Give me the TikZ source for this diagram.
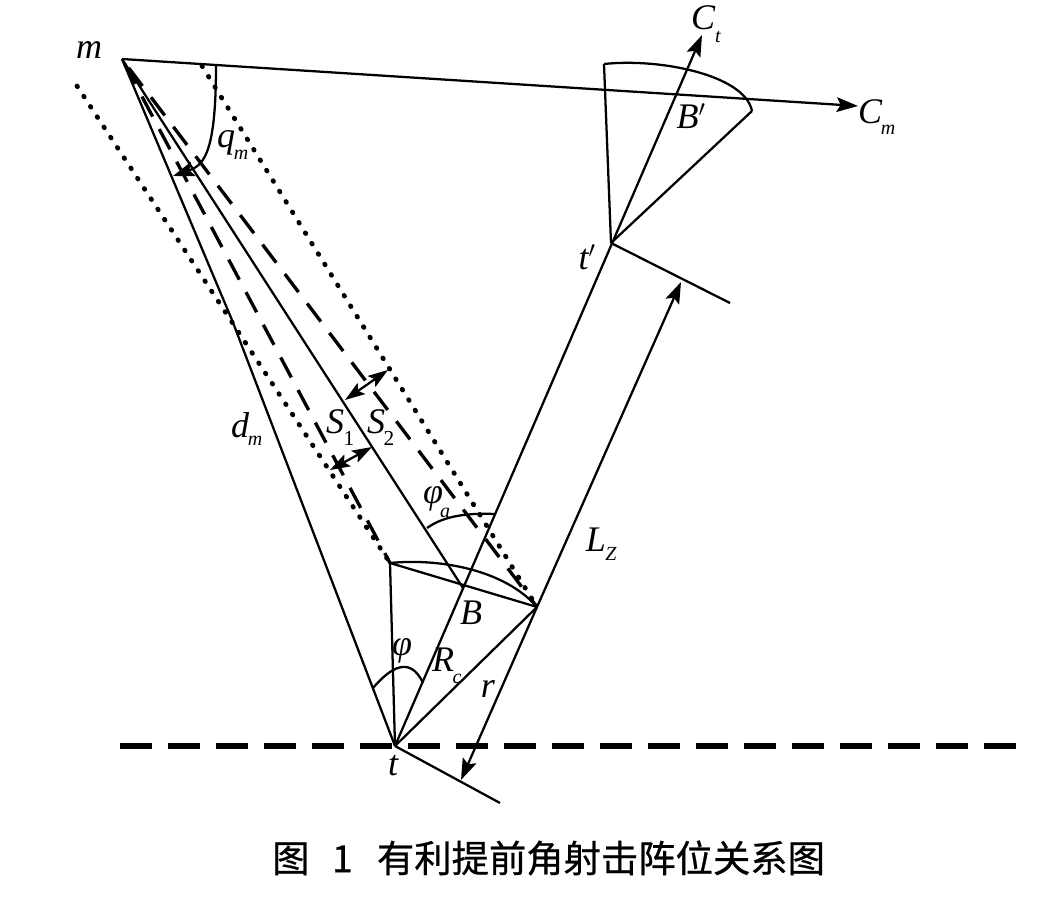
\documentclass[tikz,border=0pt]{standalone}
\usepackage{fontspec}
\setmainfont{Liberation Serif}
\newfontfamily\cjk[FakeBold=0.7]{Noto Sans CJK SC}
\usetikzlibrary{arrows.meta, calc}
\tikzstyle{solidline} = [line width=1.7pt]
\tikzstyle{dotline} = [line width=3.6pt, line cap=round, dash pattern=on 0.6pt off 8.6pt]
\tikzstyle{dashline} = [line width=2.5pt, dash pattern=on 17pt off 10.7pt]
\tikzstyle{axisline} = [line width=3.8pt, dash pattern=on 24pt off 12pt]
\tikzstyle{arrow} = [line width=1.7pt,-{Stealth[length=16pt,width=11pt,inset=3pt]}]
\tikzstyle{twoarrow} = [line width=1.7pt,{Stealth[length=15pt,width=10pt,inset=3pt]}-{Stealth[length=15pt,width=10pt,inset=3pt]}]
\tikzstyle{lbl} = [inner sep=0pt, font=\fontsize{27}{27}\selectfont\itshape]
\tikzstyle{subl} = [inner sep=0pt, font=\fontsize{15}{15}\selectfont\itshape]

\begin{document}
\begin{tikzpicture}[x=0.75pt,y=-0.75pt]
\useasboundingbox (0,0) rectangle (1054,923);

% Points
\coordinate (m) at (122,59);
\coordinate (dk) at (232,320);
\coordinate (t) at (395,746);
\coordinate (tp) at (611,243);
\coordinate (bl) at (390,563);
\coordinate (br) at (537,607);
\coordinate (b) at (463,588);
\coordinate (ct) at (702,35);
\coordinate (cm) at (858,106);
\coordinate (blp) at (604,64);
\coordinate (brp) at (752,111);
\coordinate (perp) at (500,803);
\coordinate (perpp) at (730,303);
\coordinate (rend) at (461,780);
\coordinate (lzend) at (681,282);
\coordinate (axisl) at (120,746);
\coordinate (axisr) at (1020,746);
\coordinate (dotl) at (77,86);
\coordinate (dotr) at (202,66);
\coordinate (qs) at (216,65);
\coordinate (qe) at (173,176);
\coordinate (sa) at (345,400);
\coordinate (sb) at (388,370);
\coordinate (sc) at (330,470);
\coordinate (sd) at (372,447);
\coordinate (pas) at (427,528);
\coordinate (pae) at (495,514);
\coordinate (ps) at (373,688);
\coordinate (pe) at (423,683);

% Dotted and dashed sides
\draw [dotline] (dotl) -- (bl);
\draw [dotline] (dotr) -- (br);
\draw [dashline, dash phase=23.5pt] (m) -- (bl);
\draw [dashline, dash phase=19.3pt] (m) -- (br);
\draw [axisline] (axisl) -- (axisr);

% Main lines
\draw [solidline] (m) -- (dk) -- (t);
\draw [solidline] (m) -- (b);
\draw [solidline] (bl) -- (br);
\draw [solidline] (t) -- (bl);
\draw [solidline] (t) -- (br);
\draw [solidline] (t) -- (perp);
\draw [solidline] (tp) -- (perpp);
\draw [solidline] (tp) -- (blp);
\draw [solidline] (tp) -- (brp);
\draw [arrow] (t) -- (ct);
\draw [arrow] (m) -- (cm);
\draw [arrow] (br) -- (rend);
\draw [arrow] (br) -- (lzend);

% Arcs
\draw [solidline] (bl) .. controls (440,558) and (505,570) .. (br);
\draw [solidline] (blp) .. controls (660,58) and (745,75) .. (brp);
\draw [arrow] (qs) .. controls (216,150) and (205,165) .. (qe);
\draw [solidline] (pas) .. controls (445,515) and (470,513) .. (pae);
\draw [solidline] (ps) .. controls (390,668) and (410,655) .. (pe);

% Widths
\draw [twoarrow] (sa) -- (sb);
\draw [twoarrow] (sc) -- (sd);

% Labels
\node (lblm) [lbl] at (89,50) {m};
\node (lblqm) [lbl] at (226,143) {q};
\node (subqm) [subl] at (241,155) {m};
\node (lbldm) [lbl] at (240,425) {d};
\node (subdm) [subl] at (255,441) {m};
\node (lbls1) [lbl] at (335,422) {S};
\node (subs1) [subl, font=\fontsize{16}{16}\selectfont] at (349,438) {1};
\node (lbls2) [lbl] at (376,422) {S};
\node (subs2) [subl, font=\fontsize{16}{16}\selectfont] at (389,438) {2};
\node (lblpa) [lbl] at (433,499) {φ};
\node (subpa) [subl] at (445,513) {a};
\node (lblb) [lbl] at (471,613) {B};
\node (lblp) [lbl] at (402,651) {φ};
\node (lblrc) [lbl] at (443,660) {R};
\node (subrc) [subl] at (457,679) {c};
\node (lblr) [lbl] at (488,689) {r};
\node (lblt) [lbl] at (393,766) {t};
\node (lbllz) [lbl] at (596,540) {L};
\node (sublz) [subl] at (611,554) {Z};
\node (lbltp) [lbl] at (587,257) {t$'$};
\node (lblbp) [lbl] at (691,116) {B$'$};
\node (lblct) [lbl] at (703,18) {C};
\node (subct) [subl] at (718,37) {t};
\node (lblcm) [lbl] at (870,112) {C};
\node (subcm) [subl] at (888,130) {m};

% Caption
\node (caption) [inner sep=0pt, anchor=west, font=\fontsize{28}{28}\selectfont\cjk] at (272,858) {图\hspace{0.6em}1\hspace{0.65em}有利提前角射击阵位关系图};

\end{tikzpicture}
\end{document}
